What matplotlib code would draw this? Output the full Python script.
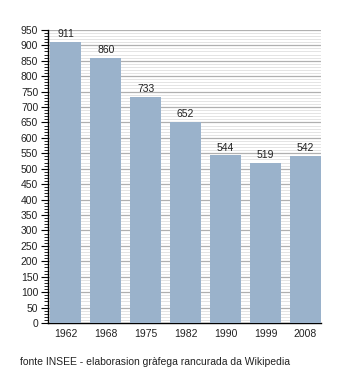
import matplotlib
matplotlib.use("Agg")
import matplotlib.pyplot as plt
import numpy as np
from matplotlib.ticker import MultipleLocator

years = ["1962", "1968", "1975", "1982", "1990", "1999", "2008"]
population = [911, 860, 733, 652, 544, 519, 542]
caption = "fonte INSEE - elaborasion gràfega rancurada da Wikipedia"


def main():
    plt.rcParams['font.family'] = ['Liberation Sans', 'DejaVu Sans']
    plt.rcParams['font.size'] = 7.5

    fig = plt.figure(figsize=(3.5, 3.73), dpi=100)
    ax = fig.add_axes([0.137, 0.134, 0.78, 0.786])

    x = np.arange(len(years))
    bars = ax.bar(x, population, width=0.78, color='#9AB2CB', zorder=3)
    for b, v in zip(bars, population):
        ax.text(b.get_x() + b.get_width() / 2, v + 8, str(v),
                ha='center', va='bottom', fontsize=7.5, color='#222222')

    ax.set_xlim(-0.45, 6.39)
    ax.set_ylim(0, 950)
    ax.set_xticks(x)
    ax.set_xticklabels(years)
    ax.yaxis.set_major_locator(MultipleLocator(50))
    ax.yaxis.set_minor_locator(MultipleLocator(10))

    ax.grid(axis='y', which='major', color='#B0B0B0', linewidth=0.9, zorder=1)
    ax.grid(axis='y', which='minor', color='#E4E4E4', linewidth=0.7, zorder=0)

    for s in ['top', 'right']:
        ax.spines[s].set_visible(False)
    ax.spines['left'].set_linewidth(1.0)
    ax.spines['bottom'].set_linewidth(1.0)
    ax.tick_params(axis='both', labelcolor='#222222')
    ax.tick_params(axis='x', length=0, pad=4)
    ax.tick_params(axis='y', which='major', length=5, width=0.8, pad=2)
    ax.tick_params(axis='y', which='minor', length=3, width=0.6)

    fig.text(0.057, 0.03, caption, fontsize=7.5, ha='left', va='center',
             color='#222222')

    fig.savefig("out.png", dpi=100)


if __name__ == "__main__":
    main()
